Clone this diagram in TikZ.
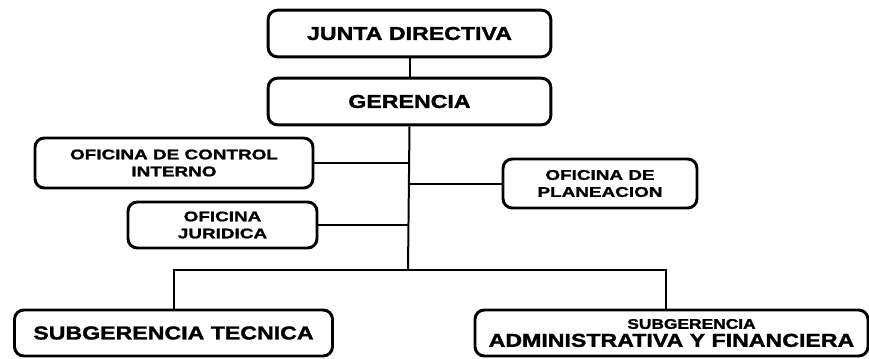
\documentclass[tikz,border=0pt]{standalone}
\usepackage{fontspec}
\usepackage{tikz}
\usetikzlibrary{positioning}
\newfontfamily\cargofont[FakeStretch=1.24, FakeBold=1.6]{Liberation Sans Bold}
\newfontfamily\oficinafont[FakeStretch=1.35, FakeBold=1.4]{Liberation Sans Bold}

\tikzset{
  cargo/.style={draw=black, line width=2.2pt, rounded corners=7pt, align=center,
    inner sep=0pt, font=\cargofont\fontsize{14}{13.5}\selectfont},
  oficina/.style={cargo, font=\oficinafont\fontsize{10.5}{12.75}\selectfont},
  linea/.style={draw=black, line width=1.5pt}
}

\begin{document}
\begin{tikzpicture}[x=0.75pt, y=-0.75pt]
      \clip (0,0) rectangle (869,358);
      \node[cargo, minimum width=212pt, minimum height=35pt] (junta) at (409.5,33.5) {JUNTA DIRECTIVA};
      \node[cargo, minimum width=212pt, minimum height=35pt] (gerencia) at (409.5,101.5) {GERENCIA};
      \node[oficina, minimum width=208.5pt, minimum height=37.5pt] (control) at (174,163) {OFICINA DE CONTROL\\INTERNO};
      \node[oficina, minimum width=141.75pt, minimum height=34.5pt] (juridica) at (222.5,225) {OFICINA\\JURIDICA};
      \node[oficina, minimum width=145.5pt, minimum height=36.75pt] (planeacion) at (600,183.5) {OFICINA DE\\PLANEACION};
      \node[cargo, minimum width=238.5pt, minimum height=34.5pt] (tecnica) at (173.5,333) {SUBGERENCIA TECNICA};
      \node[cargo, minimum width=294.75pt, minimum height=34.5pt] (admin) at (671.5,333)
        {{\cargofont\fontsize{10.5}{13.5}\selectfont\hspace*{30pt}SUBGERENCIA}\\ADMINISTRATIVA Y FINANCIERA};

      % lineas de mando
      \coordinate (reparto) at (408,270);
      \draw[linea] (junta.south) -- (gerencia.south |- junta.south) -- (gerencia.north);
      \draw[linea] (gerencia.south) -- (reparto);
      \draw[linea] (control.east) -- (control.east -| reparto);
      \draw[linea] (juridica.east) -- (juridica.east -| reparto);
      \draw[linea] (planeacion.west) -- (planeacion.west -| reparto);
      \draw[linea] (tecnica.north) |- (reparto) -| ([xshift=-4.5pt]admin.north);
\end{tikzpicture}
\end{document}
